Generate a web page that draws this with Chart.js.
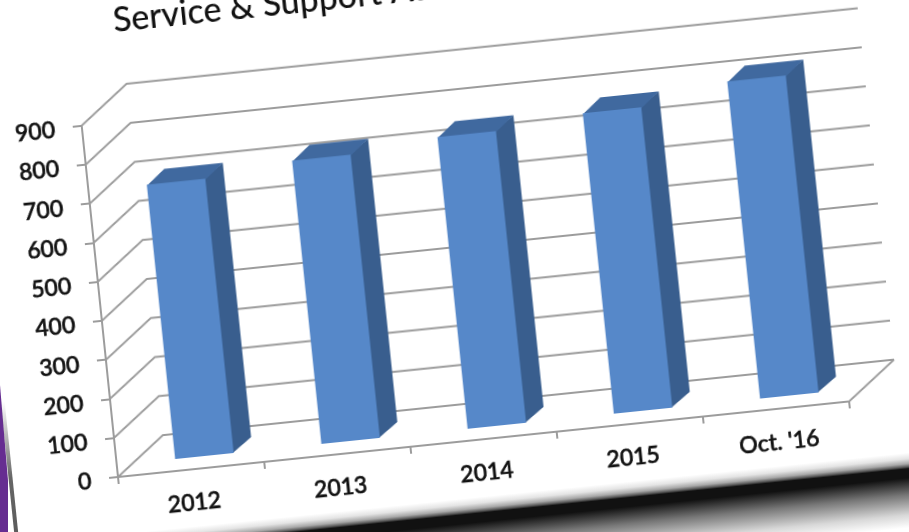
<!DOCTYPE html>
<html>
<head>
<meta charset="utf-8">
<title>Service & Support</title>
<script src="https://cdn.jsdelivr.net/npm/chart.js@4"></script>
<style>
    html, body { margin: 0; height: 100%; background: #fff; overflow: hidden; }
    /* sheet is tilted around the chart origin */
    #stage {
        position: absolute;
        left: -251px;
        top: 0px;
        width: 1184px;
        height: 540px;
        transform-origin: 369px 477px;
        transform: rotate(-5.9deg);
    }
    #chartCanvas { position: absolute; left: 0; top: 0; }
    #sheetBottom {
        position: absolute;
        left: 262px;
        top: 534px;
        width: 1000px;
        height: 75px;
        background: linear-gradient(to bottom, #fff 0, #e4e4e4 6px, #a8a8a8 11px, #5a5a5a 14px, #111 16px,
            #111 25px, #777 42px, #d8d8d8 62px, #fff 75px);
    }
    #sheetLeft {
        position: absolute;
        left: 260px;
        top: 390px;
        width: 4px;
        height: 170px;
        background: linear-gradient(to bottom, rgba(90,90,90,0), #666 45%, #555);
    }
    #purpleEdge {
        position: absolute;
        left: 0;
        top: 385px;
        width: 8px;
        height: 147px;
        background: #662d91;
        clip-path: polygon(0 0, 100% 65%, 100% 100%, 0 100%);
    }
</style>
</head>
<body>
<div id="purpleEdge"></div>
<div id="stage">
    <div id="sheetBottom"></div>
    <div id="sheetLeft"></div>
    <canvas id="chartCanvas" width="1184" height="540"></canvas>
</div>
<script>
// chart data
const categories = ['2012', '2013', '2014', '2015', "Oct. '16"];
const authorizations = [705, 728, 750, 772, 815];
const titleText = 'Service & Support Au';

// 3D look: wall depth and where the bars sit inside it
const wallDepth = { x: 49, y: -37 };
const barFront = { x: 14.6, y: -11 };
const barDepth = { x: 19, y: -14 };

const gridColor = '#9c9c9c';
const textColor = '#111';
const frontColor = '#5688c9';
const topColor = '#40699f';
const sideColor = '#395e8e';

function poly(ctx, pts, color) {
    ctx.fillStyle = color;
    ctx.beginPath();
    pts.forEach((p, i) => i ? ctx.lineTo(p[0], p[1]) : ctx.moveTo(p[0], p[1]));
    ctx.closePath();
    ctx.fill();
}

const box3d = {
    id: 'box3d',
    beforeDatasetsDraw(chart) {
        const { ctx, chartArea, scales } = chart;
        const x0 = chartArea.left, x1 = chartArea.right;

        // back wall and side wall lines, one per y tick
        ctx.save();
        ctx.strokeStyle = gridColor;
        ctx.lineWidth = 2;
        scales.y.ticks.forEach(t => {
            const y = scales.y.getPixelForValue(t.value);
            ctx.beginPath();
            ctx.moveTo(x0, y);
            ctx.lineTo(x0 + wallDepth.x, y + wallDepth.y);
            ctx.lineTo(x1 + wallDepth.x, y + wallDepth.y);
            ctx.stroke();
        });
        // floor, right edge
        const y0 = scales.y.getPixelForValue(0);
        ctx.beginPath();
        ctx.moveTo(x1, y0);
        ctx.lineTo(x1 + wallDepth.x, y0 + wallDepth.y);
        ctx.stroke();
        ctx.restore();

        // bars are pushed back from the floor edge, restored in afterDatasetsDraw
        ctx.save();
        ctx.translate(barFront.x, barFront.y);
        chart.getDatasetMeta(0).data.forEach(bar => {
            const l = bar.x - bar.width / 2, r = bar.x + bar.width / 2;
            const dx = barDepth.x, dy = barDepth.y;
            // faces tuck 1px under the front one so no seam shows
            poly(ctx, [[r - 1, bar.y], [r + dx, bar.y + dy], [r + dx, bar.base + dy], [r - 1, bar.base]], sideColor);
            poly(ctx, [[l, bar.y + 1], [l + dx, bar.y + dy], [r + dx, bar.y + dy], [r, bar.y + 1]], topColor);
        });
    },
    afterDatasetsDraw(chart) {
        chart.ctx.restore();
    }
};

new Chart(document.getElementById('chartCanvas'), {
    type: 'bar',
    data: {
        labels: categories,
        datasets: [{
            data: authorizations,
            backgroundColor: frontColor,
            categoryPercentage: 1,
            barPercentage: 0.4,
            clip: false
        }]
    },
    options: {
        responsive: false,
        animation: false,
        layout: { padding: { left: 38, right: 80 } },
        plugins: {
            legend: { display: false },
            tooltip: { enabled: false },
            title: {
                display: true,
                text: titleText,
                color: textColor,
                font: { family: 'Lato', size: 34, weight: '500' },
                padding: { top: 3, bottom: 80 }
            }
        },
        scales: {
            x: {
                afterFit(scale) { scale.height = 63; },
                grid: { drawOnChartArea: false, color: gridColor, lineWidth: 2, tickLength: 7 },
                border: { color: gridColor, width: 2 },
                ticks: {
                    color: textColor, padding: 13, maxRotation: 0,
                    textStrokeColor: textColor, textStrokeWidth: 0.6,
                    font: { family: 'Lato', size: 23, weight: '500' }
                }
            },
            y: {
                min: 0,
                max: 900,
                afterFit(scale) { scale.width = 331; },
                grid: { drawOnChartArea: false, color: gridColor, lineWidth: 2, tickLength: 9 },
                border: { color: gridColor, width: 2 },
                ticks: {
                    stepSize: 100, color: textColor, padding: 18, labelOffset: 2,
                    textStrokeColor: textColor, textStrokeWidth: 0.6,
                    font: { family: 'Lato', size: 23, weight: '500' }
                }
            }
        }
    },
    plugins: [box3d]
});
</script>
</body>
</html>
